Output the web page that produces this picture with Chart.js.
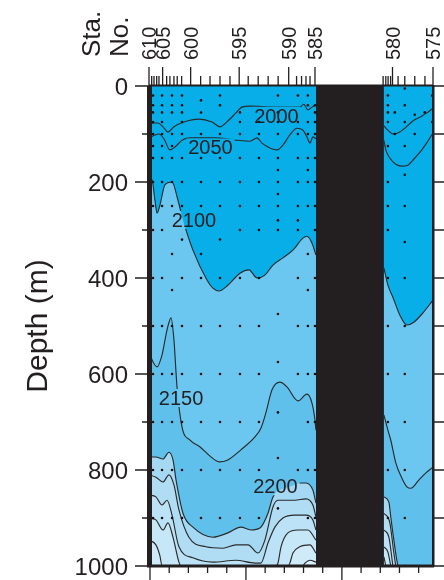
<!DOCTYPE html>
<html>
<head>
<meta charset="utf-8">
<script src="https://cdn.jsdelivr.net/npm/chart.js@4.4.1/dist/chart.umd.min.js"></script>
<style>
  html, body { margin: 0; padding: 0; background: #fff; }
  #wrap { width: 444px; height: 580px; position: relative; }
</style>
</head>
<body>
<div id="wrap"><canvas id="section"></canvas></div>
<script>
  'use strict';

  // axes
  const depthMajor = [0, 200, 400, 600, 800, 1000];
  const depthMinor = [100, 300, 500, 700, 900];
  const distTicks = [0, 10, 20, 30, 40, 50, 60, 70, 80, 90, 100, 110, 120, 130, 140];
  const distMajor = [0, 50, 100];

  // station numbers along the top (km along section)
  const staNo = [610, 605, 600, 595, 590, 585, 580, 575];
  const staKm = [0, 7.1, 21.7, 47.0, 72.8, 86.5, 126.9, 148];
  const staMinorKm = [1.4, 2.6, 4.0, 5.2, 9.2, 10.9, 13.0, 14.7, 17.0, 26.9, 31.8, 37.0, 42.2,
    51.7, 56.9, 62.1, 67.3, 76.9, 79.5, 81.8, 83.9, 122.0, 123.4, 124.6, 125.9, 129.8, 133.3, 138.5, 143.8];

  // stretch with no data
  const gapKm = [87, 122.4];

  // contour lines [km, depth m], west part (W) and east part (E) of the gap
  const c2000W = [[0, 81], [2.1, 77], [4.7, 77], [7.3, 85], [9.9, 96], [13, 85], [18.2, 75], [26, 69], [32.8, 75],
    [37, 85], [41.1, 73], [45.8, 54], [48.4, 44], [52.6, 42], [65.6, 44], [78.6, 44], [80.7, 38], [82.8, 50], [84.9, 44], [87, 40]];
  const c2000E = [[122.4, 83], [124.5, 92], [127.1, 100], [129.7, 98], [133.3, 88], [137.5, 73], [141.1, 65], [144.8, 56], [148, 46]];
  const c2050W = [[0, 108], [2.1, 104], [5.2, 100], [7.8, 110], [10.9, 133], [14.1, 125], [17.2, 113], [21.4, 108], [34.4, 108],
    [45.8, 113], [52.6, 115], [56.3, 108], [58.9, 119], [63, 129], [66.7, 133], [69.8, 123], [73.4, 102], [77.1, 88],
    [80.2, 92], [82.3, 106], [83.9, 119], [85.4, 106], [87, 110]];
  const c2050E = [[122.4, 113], [123.4, 133], [125.5, 150], [128.6, 163], [131.8, 167], [134.9, 165], [138.5, 150], [142.2, 133], [145.3, 115], [148, 98]];
  const c2100W = [[0, 192], [1.6, 196], [3.1, 238], [4.2, 265], [5.7, 248], [8.3, 206], [12, 200], [15.1, 238], [17.7, 279],
    [22.9, 342], [30.2, 404], [33.3, 421], [36.5, 427], [41.1, 415], [47.4, 390], [52.1, 383], [56.3, 400], [60.4, 394],
    [64.6, 373], [69.8, 358], [75, 342], [80.2, 317], [82.3, 313], [84.9, 327], [87, 352]];
  const c2100E = [[122.4, 379], [124.5, 415], [127.1, 440], [130.7, 477], [134.4, 498], [138, 492], [142.7, 473], [148, 446]];
  const c2150W = [[0, 554], [2.1, 575], [4.2, 585], [6.8, 560], [9.4, 508], [11.5, 483], [13, 529], [14.6, 627], [17.2, 710],
    [21.4, 738], [26.6, 752], [31.8, 771], [36.5, 783], [41.1, 779], [47.9, 758], [55.2, 731], [58.3, 713], [60.9, 681],
    [64.1, 633], [68.2, 617], [71.9, 627], [77.6, 656], [82.3, 642], [84.9, 660], [86.5, 696], [87, 717]];
  const c2150E = [[122.4, 685], [124.5, 717], [126, 738], [128.6, 785], [131.8, 817], [134.4, 835], [136.5, 838], [140.6, 821], [144.3, 806], [148, 794]];
  const c2200W = [[0, 773], [3.6, 773], [7.3, 777], [10.4, 763], [12.5, 779], [14.1, 821], [17.7, 890], [22.9, 919], [33.3, 940],
    [41.1, 931], [47.9, 919], [53.1, 925], [57.8, 921], [62, 890], [64.6, 856], [68.2, 842], [73.4, 835], [79.2, 827],
    [81.8, 827], [85.4, 842], [87, 869]];
  const c2200E = [[122.4, 856], [125, 867], [126, 898], [127.6, 946], [129.7, 998], [130.2, 1000]];
  const c2250W = [[0, 810], [3.6, 815], [7.3, 825], [10.4, 810], [13, 831], [15.6, 883], [20.8, 940], [29.7, 960], [38.5, 963],
    [45.3, 956], [51.6, 956], [56.8, 973], [60.4, 946], [64.6, 877], [67.2, 863], [76, 863], [81.8, 860], [85.4, 873], [87, 898]];
  const c2250E = [[122.4, 890], [125.5, 910], [127.6, 973], [128.6, 1000]];
  const c2300W = [[0, 852], [3.6, 856], [6.8, 873], [9.4, 863], [12, 894], [15.6, 960], [22.9, 983], [33.3, 992], [45.3, 988],
    [55.2, 994], [58.3, 994], [62, 952], [65.6, 919], [69.8, 900], [76, 894], [81.8, 894], [85.4, 904], [87, 925]];
  const c2300E = [[122.4, 925], [125, 940], [127.1, 1000]];
  const c2350W = [[0, 900], [3.6, 904], [7.3, 925], [9.9, 910], [12.5, 940], [15.6, 992], [16.7, 1000], [66.1, 1000],
    [67.2, 994], [68.8, 960], [72.4, 931], [77.6, 925], [82.8, 925], [87, 946]];
  const c2350E = [[122.4, 960], [124.5, 971], [126, 1000]];
  const c2400W = [[0, 946], [3.6, 956], [5.7, 979], [6.8, 1000], [72.4, 1000], [73.4, 994], [75, 973], [78.6, 960], [83.9, 956], [87, 973]];
  const c2400E = [[122.4, 981], [123.4, 1000]];
  const c2450W = [[80.2, 1000], [81.3, 994], [83.9, 988], [87, 992]];

  // contour labels
  const labelText = ['2000', '2050', '2100', '2150', '2200'];
  const labelKm = [66.4, 32.0, 23.4, 16.7, 65.9];
  const labelDepth = [62, 128, 279, 650, 834];

  // bottle sample positions
  const castKm = [2.1, 6.8, 12.0, 17.2, 27.1, 37.0, 47.4, 57.3, 67.2, 77.6, 82.8, 86.5, 124.5, 128.1, 133.3, 138.5, 143.7, 147.6];
  const castDepths = [
    [20, 40, 55, 75, 100, 125, 150, 200, 250, 300, 400, 500, 600, 700, 800, 900],
    [20, 40, 55, 75, 100, 125, 150, 200, 250, 300, 400, 500, 600, 700, 800, 900],
    [20, 40, 55, 100, 125, 150, 200, 250, 350, 425, 500, 600, 700, 800, 900],
    [20, 40, 55, 75, 100, 150, 200, 250, 320, 400, 500, 600, 700, 800, 900],
    [30, 55, 100, 150, 200, 250, 350, 400, 500, 600, 700, 800, 900],
    [20, 40, 100, 150, 200, 250, 320, 400, 500, 600, 700, 800, 900],
    [55, 75, 100, 150, 200, 250, 300, 400, 500, 600, 700, 800, 900],
    [75, 100, 150, 200, 250, 300, 400, 500, 600, 700, 800, 900],
    [20, 55, 75, 100, 150, 175, 200, 225, 250, 280, 300, 475, 575, 680, 775, 880],
    [20, 75, 100, 150, 200, 250, 280, 300, 400, 500, 600, 800],
    [20, 40, 75, 100, 150, 175, 200, 250, 350, 425, 500, 600, 700, 800, 900, 1000],
    [40, 55, 75, 100, 150, 200, 250, 300, 400, 500, 600, 700, 800, 900],
    [20, 40, 55, 75, 125, 200, 250, 300, 400, 500, 600, 700, 800, 900, 1000],
    [55, 100],
    [5, 40, 75, 125, 185, 250, 325, 400, 500, 600, 700, 800, 900, 1000],
    [60, 100],
    [55],
    [20, 75]
  ];

  const ink = '#231f20';
  const lineInk = '#2a2a2a';
  const fontFamily = '"Liberation Sans", Arial, Helvetica, sans-serif';
  const labelFont = '20px ' + fontFamily;

  function contour(points, colour, order) {
    return {
      data: points.map(([x, y]) => ({ x, y })),
      contour: true,
      borderColor: lineInk,
      borderWidth: 1.15,
      pointRadius: 0,
      cubicInterpolationMode: 'monotone',
      fill: colour ? { value: 1000 } : false,
      backgroundColor: colour || 'transparent',
      order: order
    };
  }

  function band(points, colour, order) {
    return {
      data: points.map(([x, y]) => ({ x, y })),
      borderWidth: 0,
      pointRadius: 0,
      fill: { value: 1000 },
      backgroundColor: colour,
      order: order
    };
  }

  function labelBox(chart, i) {
    const ctx = chart.ctx;
    ctx.font = labelFont;
    const w = ctx.measureText(labelText[i]).width;
    const cx = chart.scales.x.getPixelForValue(labelKm[i]);
    const cy = chart.scales.y.getPixelForValue(labelDepth[i]);
    return { x: cx - w / 2 - 2, y: cy - 9, w: w + 4, h: 18, cx, cy };
  }

  function seg(ctx, x1, y1, x2, y2) {
    ctx.beginPath();
    ctx.moveTo(x1, y1);
    ctx.lineTo(x2, y2);
    ctx.stroke();
  }

  // frame, ticks, labels and contour label gaps
  const sectionAxes = {
    id: 'sectionAxes',
    beforeDatasetDraw(chart, args) {
      const ds = chart.data.datasets[args.index];
      if (!ds.contour) return;
      const ctx = chart.ctx;
      ctx.save();
      ctx.beginPath();
      ctx.rect(0, 0, chart.width, chart.height);
      labelText.forEach((t, i) => {
        const b = labelBox(chart, i);
        ctx.rect(b.x, b.y, b.w, b.h);
      });
      ctx.clip('evenodd');
    },
    afterDatasetDraw(chart, args) {
      const ds = chart.data.datasets[args.index];
      if (ds.contour) chart.ctx.restore();
    },
    afterDatasetsDraw(chart) {
      const ctx = chart.ctx;
      ctx.save();
      ctx.fillStyle = ink;
      ctx.font = labelFont;
      ctx.textAlign = 'center';
      ctx.textBaseline = 'alphabetic';
      labelText.forEach((t, i) => {
        const b = labelBox(chart, i);
        ctx.fillText(t, b.cx, b.cy + 7);
      });
      ctx.restore();
    },
    afterDraw(chart) {
      const { ctx, chartArea: a, scales: { x, y } } = chart;
      ctx.save();
      ctx.strokeStyle = ink;
      ctx.fillStyle = ink;

      // frame
      ctx.fillRect(a.left - 2, a.top, 5, a.bottom - a.top + 1);
      ctx.fillRect(a.right - 1, a.top - 1, 2.5, a.bottom - a.top + 2);
      ctx.fillRect(a.left - 2, a.bottom - 1.5, a.right - a.left + 3, 3);
      ctx.lineWidth = 2;
      seg(ctx, a.left, a.top - 0.5, a.right, a.top - 0.5);

      // depth ticks
      ctx.lineWidth = 1.5;
      depthMajor.forEach(d => {
        const py = y.getPixelForValue(d);
        seg(ctx, a.left - 14, py, a.left, py);
        seg(ctx, a.right, py, a.right + 11, py);
      });
      depthMinor.forEach(d => {
        const py = y.getPixelForValue(d);
        seg(ctx, a.left - 7, py, a.left, py);
        seg(ctx, a.right, py, a.right + 11, py);
      });
      ctx.font = '24px ' + fontFamily;
      ctx.textAlign = 'right';
      ctx.textBaseline = 'alphabetic';
      depthMajor.forEach(d => {
        ctx.fillText(String(d), a.left - 21, y.getPixelForValue(d) + 8.5);
      });

      // distance ticks along the bottom
      ctx.lineWidth = 1.3;
      distTicks.forEach(k => {
        const pxk = x.getPixelForValue(k) + 1;
        const len = distMajor.includes(k) ? 14 : 7;
        seg(ctx, pxk, a.bottom, pxk, a.bottom + len);
      });

      // station ticks along the top
      staMinorKm.forEach(k => {
        const pxk = x.getPixelForValue(k);
        seg(ctx, pxk, a.top, pxk, a.top - 10);
      });
      staKm.forEach(k => {
        const pxk = x.getPixelForValue(k);
        seg(ctx, pxk, a.top, pxk, a.top - 19);
      });

      // station numbers, rotated
      ctx.font = '20px ' + fontFamily;
      ctx.textAlign = 'left';
      staNo.forEach((n, i) => {
        const pxk = x.getPixelForValue(staKm[i]);
        ctx.save();
        ctx.translate(pxk + 7, a.top - 26);
        ctx.rotate(-Math.PI / 2);
        ctx.fillText(String(n), 0, 0);
        ctx.restore();
      });

      // "Sta. No."
      ctx.font = '26px ' + fontFamily;
      [['Sta.', 100], ['No.', 128]].forEach(([t, bx]) => {
        ctx.save();
        ctx.translate(bx, 57);
        ctx.rotate(-Math.PI / 2);
        ctx.fillText(t, 0, 0);
        ctx.restore();
      });

      // depth title
      ctx.font = '30px ' + fontFamily;
      ctx.textAlign = 'center';
      ctx.save();
      ctx.translate(47, (a.top + a.bottom) / 2);
      ctx.rotate(-Math.PI / 2);
      ctx.fillText('Depth (m)', 0, 0);
      ctx.restore();

      ctx.restore();
    }
  };

  const dots = [];
  castKm.forEach((k, i) => castDepths[i].forEach(d => dots.push({ x: k, y: d })));

  const datasets = [
    { data: dots, showLine: false, pointRadius: 1.3, pointBackgroundColor: '#111', pointBorderWidth: 0, order: 0 },
    band([[gapKm[0], 0], [gapKm[1], 0]], ink, 5),
    contour(c2000W, null, 10), contour(c2000E, null, 10),
    contour(c2050W, null, 10), contour(c2050E, null, 10),
    contour(c2450W, '#d9f0fb', 13),
    contour(c2400W, '#cfebf9', 14), contour(c2400E, '#cfebf9', 14),
    contour(c2350W, '#c5e7f8', 15), contour(c2350E, '#c5e7f8', 15),
    contour(c2300W, '#bbe2f6', 16), contour(c2300E, '#bbe2f6', 16),
    contour(c2250W, '#b0ddf4', 17), contour(c2250E, '#b0ddf4', 17),
    contour(c2200W, '#a5d8f2', 18), contour(c2200E, '#a5d8f2', 18),
    contour(c2150W, '#5fc0ec', 19), contour(c2150E, '#5fc0ec', 19),
    contour(c2100W, '#6cc7f0', 20), contour(c2100E, '#6cc7f0', 20),
    band([[0, 0], [148, 0]], '#07aee8', 30)
  ];

  new Chart(document.getElementById('section'), {
    type: 'line',
    data: { datasets },
    options: {
      responsive: true,
      maintainAspectRatio: false,
      devicePixelRatio: 1,
      animation: false,
      events: [],
      layout: { padding: { left: 149, right: 11, top: 86, bottom: 14 } },
      scales: {
        x: { type: 'linear', min: 0, max: 148, display: false },
        y: { type: 'linear', min: 0, max: 1000, reverse: true, display: false }
      },
      plugins: {
        legend: { display: false },
        tooltip: { enabled: false },
        filler: { drawTime: 'beforeDatasetsDraw' }
      }
    },
    plugins: [sectionAxes]
  });
</script>
</body>
</html>
